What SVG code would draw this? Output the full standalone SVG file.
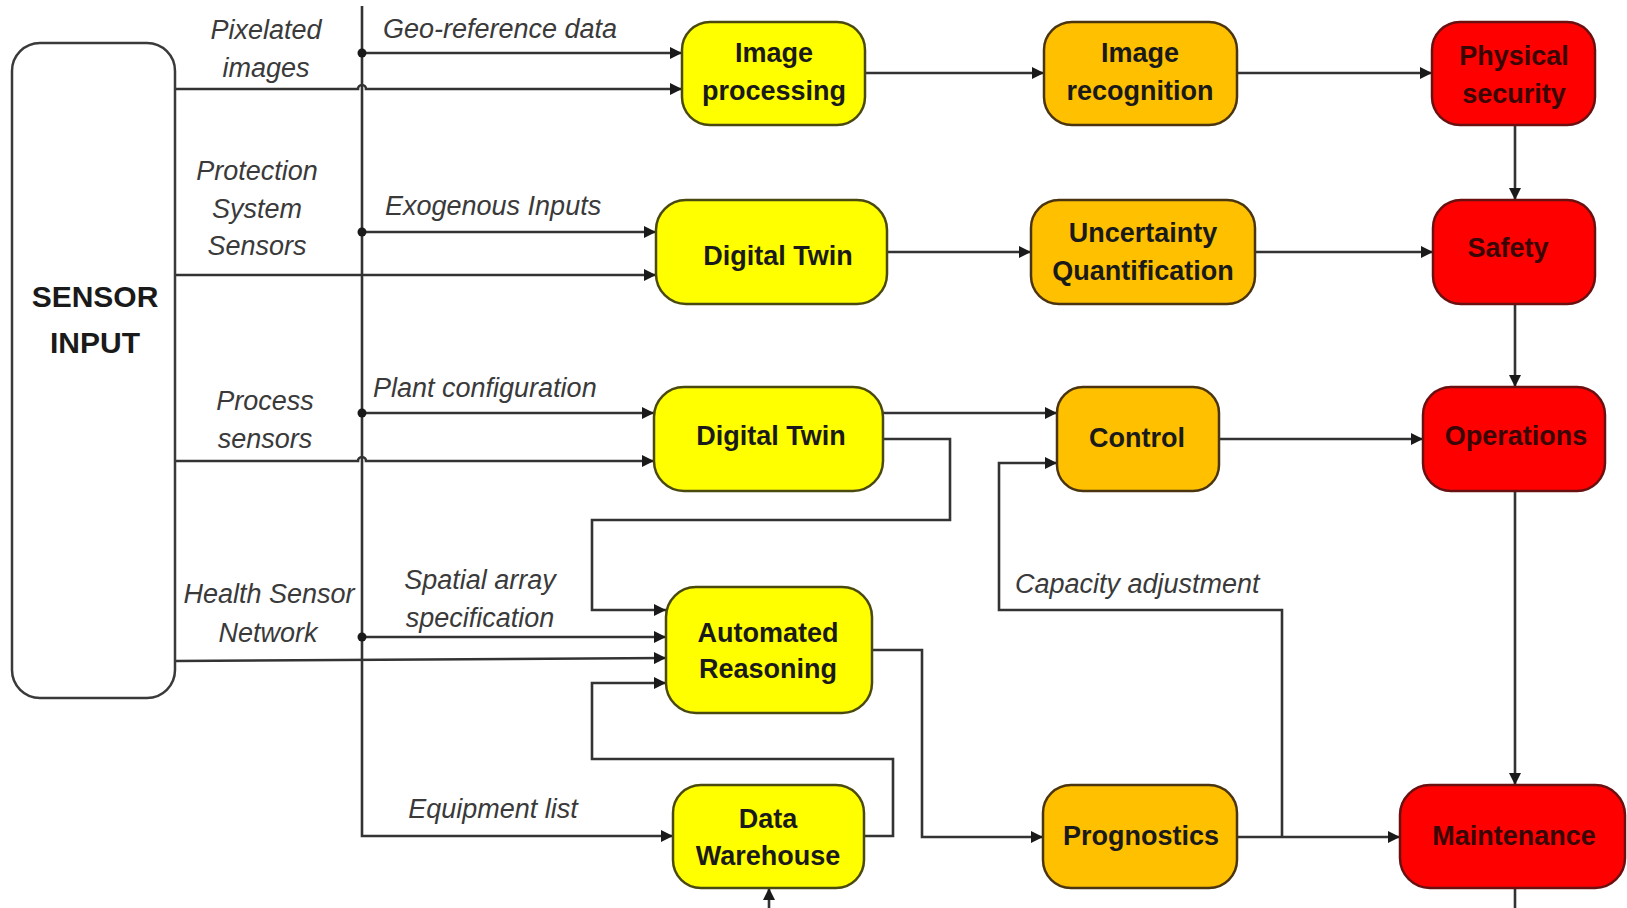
<svg xmlns="http://www.w3.org/2000/svg" width="1627" height="908" viewBox="0 0 1627 908">
<style>
.box{stroke-width:2.5}
.y{fill:#FFFF00;stroke:#4a4a10}
.o{fill:#FFC000;stroke:#4a3510}
.r{fill:#FF0000;stroke:#6a1010}
.s{fill:#ffffff;stroke:#3a3a3a}
.nt{font-family:"Liberation Sans",Arial,sans-serif;font-weight:bold;font-size:27px;fill:#1a1a1a;text-anchor:middle}
.rt{fill:#3a0505}
.st{font-family:"Liberation Sans",Arial,sans-serif;font-weight:bold;font-size:30px;fill:#1a1a1a;text-anchor:middle}
.lb{font-family:"Liberation Sans",Arial,sans-serif;font-style:italic;font-size:27px;fill:#3a3a3a}
.c{text-anchor:middle}
.ln{fill:none;stroke:#333;stroke-width:2.6}
.ar{marker-end:url(#ah)}
.dot{fill:#1a1a1a}
</style>
<defs>
<marker id="ah" viewBox="0 0 10 10" refX="10" refY="5" markerWidth="17" markerHeight="12" markerUnits="userSpaceOnUse" orient="auto">
<path d="M0,0 L10,5 L0,10 z" fill="#1a1a1a"/>
</marker>
</defs>
<rect width="1627" height="908" fill="#ffffff"/>

<g id="connectors">
<path class="ln ar" d="M362,6 V836 H673"/>
<path class="ln ar" d="M362,53 H682"/>
<path class="ln ar" d="M175,89 H358 a4,4 0 0 1 8,0 H682"/>
<path class="ln ar" d="M362,232 H656"/>
<path class="ln ar" d="M175,275 H656"/>
<path class="ln ar" d="M362,413 H654"/>
<path class="ln ar" d="M175,461 H358 a4,4 0 0 1 8,0 H654"/>
<path class="ln ar" d="M362,637 H666"/>
<path class="ln ar" d="M175,661 L666,658"/>
<path class="ln ar" d="M883,439 H950 V520 H592 V610 H666"/>
<path class="ln ar" d="M865,836 H893 V759 H592 V683 H666"/>
<path class="ln ar" d="M872,650 H922 V837 H1043"/>
<path class="ln ar" d="M865,73 H1044"/>
<path class="ln ar" d="M1237,73 H1432"/>
<path class="ln ar" d="M887,252 H1031"/>
<path class="ln ar" d="M1255,252 H1433"/>
<path class="ln ar" d="M883,413 H1057"/>
<path class="ln ar" d="M1219,439 H1423"/>
<path class="ln ar" d="M1515,125 V200"/>
<path class="ln ar" d="M1515,304 V387"/>
<path class="ln ar" d="M1515,491 V785"/>
<path class="ln" d="M1515,888 V908"/>
<path class="ln ar" d="M1237,837 H1400"/>
<path class="ln ar" d="M1282,837 V610 H999 V463 H1057"/>
<path class="ln ar" d="M769,908 V888"/>
<circle class="dot" cx="362" cy="53" r="4.5"/>
<circle class="dot" cx="362" cy="232" r="4.5"/>
<circle class="dot" cx="362" cy="413" r="4.5"/>
<circle class="dot" cx="362" cy="637" r="4.5"/>
</g>

<g id="labels">
<text class="lb c" x="266" y="39">Pixelated</text>
<text class="lb c" x="266" y="77">images</text>
<text class="lb" x="383" y="38">Geo-reference data</text>
<text class="lb c" x="257" y="180">Protection</text>
<text class="lb c" x="257" y="218">System</text>
<text class="lb c" x="257" y="255">Sensors</text>
<text class="lb" x="385" y="215">Exogenous Inputs</text>
<text class="lb c" x="265" y="410">Process</text>
<text class="lb c" x="265" y="448">sensors</text>
<text class="lb" x="373" y="397">Plant configuration</text>
<text class="lb c" x="269" y="603">Health Sensor</text>
<text class="lb c" x="268" y="642">Network</text>
<text class="lb c" x="480" y="589">Spatial array</text>
<text class="lb c" x="480" y="627">specification</text>
<text class="lb c" x="493" y="818">Equipment list</text>
<text class="lb" x="1015" y="593">Capacity adjustment</text>
</g>

<g id="sensor-input">
<rect class="box s" x="12" y="43" width="163" height="655" rx="28"/>
<text class="st" x="95" y="307">SENSOR</text>
<text class="st" x="95" y="353">INPUT</text>
</g>

<g id="image-processing">
<rect class="box y" x="682" y="22" width="183" height="103" rx="28"/>
<text class="nt" x="774" y="62">Image</text>
<text class="nt" x="774" y="100">processing</text>
</g>

<g id="image-recognition">
<rect class="box o" x="1044" y="22" width="193" height="103" rx="28"/>
<text class="nt" x="1140" y="62">Image</text>
<text class="nt" x="1140" y="100">recognition</text>
</g>

<g id="physical-security">
<rect class="box r" x="1432" y="22" width="163" height="103" rx="28"/>
<text class="nt rt" x="1514" y="65">Physical</text>
<text class="nt rt" x="1514" y="103">security</text>
</g>

<g id="digital-twin-1">
<rect class="box y" x="656" y="200" width="231" height="104" rx="30"/>
<text class="nt" x="778" y="265">Digital Twin</text>
</g>

<g id="uncertainty-quantification">
<rect class="box o" x="1031" y="200" width="224" height="104" rx="28"/>
<text class="nt" x="1143" y="242">Uncertainty</text>
<text class="nt" x="1143" y="280">Quantification</text>
</g>

<g id="safety">
<rect class="box r" x="1433" y="200" width="162" height="104" rx="28"/>
<text class="nt rt" x="1508" y="257">Safety</text>
</g>

<g id="digital-twin-2">
<rect class="box y" x="654" y="387" width="229" height="104" rx="30"/>
<text class="nt" x="771" y="445">Digital Twin</text>
</g>

<g id="control">
<rect class="box o" x="1057" y="387" width="162" height="104" rx="26"/>
<text class="nt" x="1137" y="447">Control</text>
</g>

<g id="operations">
<rect class="box r" x="1423" y="387" width="182" height="104" rx="28"/>
<text class="nt rt" x="1516" y="445">Operations</text>
</g>

<g id="automated-reasoning">
<rect class="box y" x="666" y="587" width="206" height="126" rx="30"/>
<text class="nt" x="768" y="642">Automated</text>
<text class="nt" x="768" y="678">Reasoning</text>
</g>

<g id="data-warehouse">
<rect class="box y" x="673" y="785" width="191" height="103" rx="28"/>
<text class="nt" x="768" y="828">Data</text>
<text class="nt" x="768" y="865">Warehouse</text>
</g>

<g id="prognostics">
<rect class="box o" x="1043" y="785" width="194" height="103" rx="28"/>
<text class="nt" x="1141" y="845">Prognostics</text>
</g>

<g id="maintenance">
<rect class="box r" x="1400" y="785" width="225" height="103" rx="30"/>
<text class="nt rt" x="1514" y="845">Maintenance</text>
</g>
</svg>
